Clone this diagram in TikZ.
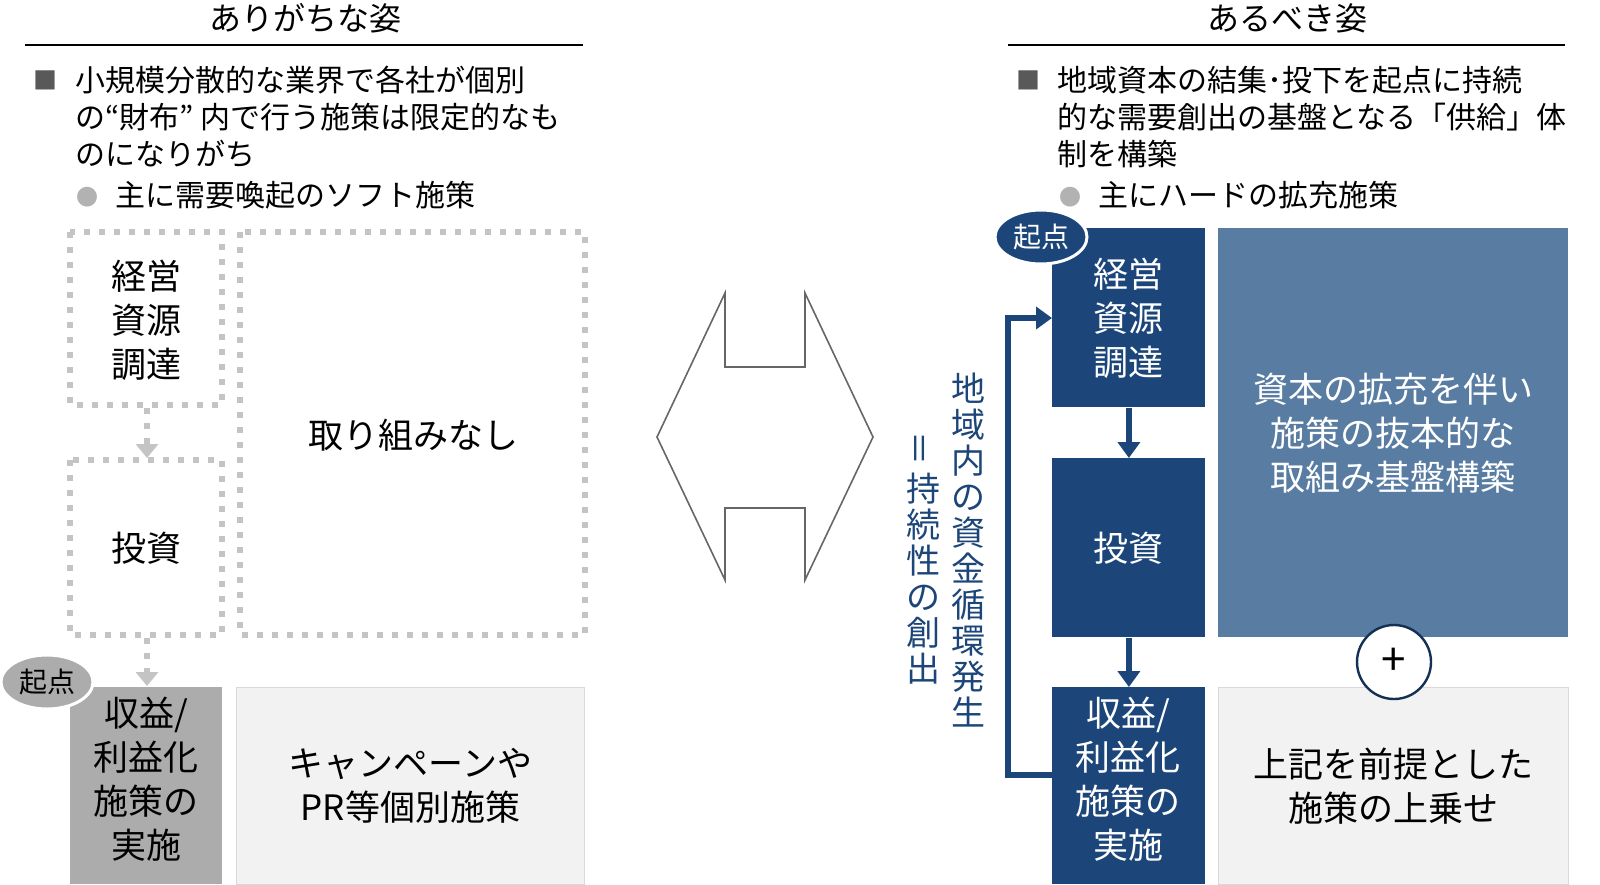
\documentclass[tikz,border=0pt]{standalone}
\usepackage{fontspec}
\setmainfont{Noto Sans CJK JP}
\usetikzlibrary{arrows.meta,shapes.geometric}
\definecolor{navy}{HTML}{1C4679}
\definecolor{steel}{HTML}{587CA2}
\definecolor{pale}{HTML}{F2F2F2}
\definecolor{dotgray}{HTML}{C4C4C4}

\begin{document}
\begin{tikzpicture}[x=0.5pt,y=-0.5pt,>=Triangle,
  title/.style={font=\fontsize{16}{18}\selectfont},
  body/.style={font=\fontsize{15}{18.5}\selectfont,anchor=west,align=left},
  dotbox/.style={draw=dotgray,line width=3pt,dash pattern=on 3pt off 4.5pt,fill=white},
  darkbox/.style={fill=navy,text=white,font=\fontsize{17.5}{22}\selectfont,align=center},
  palebox/.style={fill=pale,draw=gray!30,font=\fontsize{17.5}{22}\selectfont,align=center},
  origin node/.style={ellipse,draw=white,line width=1.5pt,minimum width=46pt,minimum height=27pt,inner sep=0pt,font=\fontsize{14}{16}\selectfont}]

  \path[use as bounding box] (0,0) rectangle (1600,884);

  % left side
  \node[title] (lt) at (305,18) {ありがちな姿};
  \draw[thick] (25,45) -- (583,45);
  \node[text=gray!70!black,font=\fontsize{12}{14}\selectfont] (lb) at (45,80) {■};
  \node[body] (l1) at (68,117) {小規模分散的な業界で各社が個別\\の“財布” 内で行う施策は限定的なも\\のになりがち};
  \node[text=gray!60,font=\fontsize{11}{12}\selectfont] (ls) at (87,197) {●};
  \node[body] (l2) at (108,195) {主に需要喚起のソフト施策};

  \draw[dotbox] (240,232) rectangle (585,635);
  \node[anchor=center,font=\fontsize{17.5}{22}\selectfont] (none) at (413,435) {取り組みなし};
  \draw[dotbox] (70,232) rectangle (222,405);
  \node[font=\fontsize{17.5}{22}\selectfont,align=center] (lm) at (146,320) {経営\\資源\\調達};
  \draw[dotbox] (70,460) rectangle (222,635);
  \node[font=\fontsize{17.5}{22}\selectfont] (li) at (146,548) {投資};
  \coordinate (a1) at (147,408);
  \coordinate (a2) at (147,458);
  \coordinate (a3) at (147,638);
  \coordinate (a4) at (147,686);
  \draw[dotgray,line width=3pt,dash pattern=on 3pt off 4.5pt,-{Triangle[length=7pt,width=11pt]}] (a1) -- (a2);
  \draw[dotgray,line width=3pt,dash pattern=on 3pt off 4.5pt,-{Triangle[length=7pt,width=11pt]}] (a3) -- (a4);

  \node[fill=gray!65,minimum width=76pt,minimum height=98.5pt,anchor=north west,inner sep=0pt] (lr) at (70,687) {};
  \node[font=\fontsize{17.5}{22}\selectfont,align=center,anchor=north] at (146,690) {収益/\\利益化\\施策の\\実施};
  \node[palebox,minimum width=174pt,minimum height=98.5pt,anchor=north west,inner sep=0pt] (lc) at (236,687) {キャンペーンや\\PR等個別施策};
  \node[origin node,fill=gray!65] (lo) at (47,682) {起点};

  % middle double arrow
  \draw[gray!80!black,line width=0.8pt] (657,437) -- (725,293) -- (725,367) -- (805,367) -- (805,293)
    -- (873,437) -- (805,580) -- (805,508) -- (725,508) -- (725,580) -- cycle;

  % right side
  \node[title] (rt) at (1287,18) {あるべき姿};
  \draw[thick] (1008,45) -- (1565,45);
  \node[text=gray!70!black,font=\fontsize{12}{14}\selectfont] (rb) at (1028,80) {■};
  \node[body] (r1) at (1050,117) {地域資本の結集･投下を起点に持続\\的な需要創出の基盤となる「供給」体\\制を構築};
  \node[text=gray!60,font=\fontsize{11}{12}\selectfont] (rs) at (1070,197) {●};
  \node[body] (r2) at (1091,195) {主にハードの拡充施策};

  \node[darkbox,minimum width=76.5pt,minimum height=89.5pt,inner sep=0pt,anchor=north west] (rm) at (1052,228) {経営\\資源\\調達};
  \node[darkbox,minimum width=76.5pt,minimum height=89.5pt,inner sep=0pt,anchor=north west] (ri) at (1052,458) {投資};
  \node[darkbox,minimum width=76.5pt,minimum height=98.5pt,inner sep=0pt,anchor=north west] (rr) at (1052,687) {};
  \node[text=white,font=\fontsize{17.5}{22}\selectfont,align=center,anchor=north] at (1128,690) {収益/\\利益化\\施策の\\実施};
  \draw[navy,line width=3pt,-{Triangle[length=8pt,width=11pt]}] (rm) -- (ri);
  \draw[navy,line width=3pt,-{Triangle[length=8pt,width=11pt]}] (ri) -- (rr);

  \node[fill=steel,text=white,minimum width=175pt,minimum height=204.5pt,inner sep=0pt,anchor=north west,font=\fontsize{17.5}{22}\selectfont,align=center] (big) at (1218,228) {資本の拡充を伴い\\施策の抜本的な\\取組み基盤構築};
  \node[palebox,minimum width=175pt,minimum height=98.5pt,anchor=north west,inner sep=0pt] (rc) at (1218,687) {上記を前提とした\\施策の上乗せ};
  \node[circle,draw=navy!70!black,line width=1.2pt,fill=white,minimum size=37pt,inner sep=0pt,font=\fontsize{22}{22}\selectfont] (plus) at (1394,662) {+};
  \node[origin node,fill=navy,text=white] (ro) at (1041,237) {起点};

  \coordinate (f1) at (1008,775);
  \coordinate (f2) at (1008,318);
  \draw[navy,line width=3pt,-{Triangle[length=8pt,width=11pt]}] (rr.west |- f1) -- (f1) -- (f2) -- (rm.west |- f2);

  \node[text=navy,font=\fontsize{17}{18}\selectfont,align=center,anchor=north] (v1) at (968,366) {地\\域\\内\\の\\資\\金\\循\\環\\発\\生};
  \node[text=navy,font=\fontsize{17}{18}\selectfont,align=center,anchor=north] (v2) at (923,424) {\rotatebox{90}{＝}\\持\\続\\性\\の\\創\\出};
\end{tikzpicture}
\end{document}
